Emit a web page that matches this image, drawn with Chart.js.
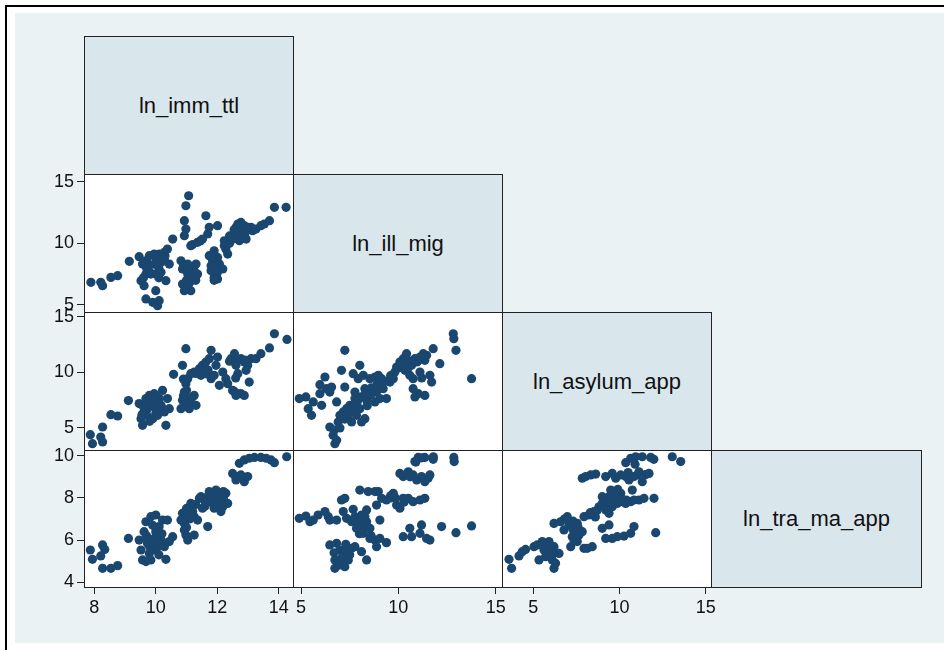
<!DOCTYPE html>
<html>
<head>
<meta charset="utf-8">
<script src="https://cdn.jsdelivr.net/npm/chart.js@4.4.1/dist/chart.umd.min.js"></script>
<style>
  body { margin: 0; width: 944px; height: 650px; overflow: hidden; background: #fff; position: relative;
         font-family: "Liberation Sans", Arial, sans-serif; }
  #frame { position: absolute; left: 5px; top: 5px; width: 960px; height: 660px;
           border-left: 2px solid #000; border-top: 2px solid #000; }
  #bg { position: absolute; left: 15px; top: 13px; width: 929px; height: 630px; background: #EAF2F3; }
  .cell { position: absolute; box-sizing: border-box; border: 1px solid #222; background: #fff; }
  .diag { background: #D9E6EB; display: flex; align-items: center; justify-content: center;
          font-size: 22px; color: #111; }
  canvas { position: absolute; }
</style>
</head>
<body>
<div id="frame"></div>
<div id="bg"></div>
<script>
// variable names on the diagonal
const varNames = ['ln_imm_ttl', 'ln_ill_mig', 'ln_asylum_app', 'ln_tra_ma_app'];

// axis ticks (x per column, y per row)
const xTicks = [[8, 10, 12, 14], [5, 10, 15], [5, 10, 15]];
const yTicks = [null, [5, 10, 15], [5, 10, 15], [4, 6, 8, 10]];
const xRange = [[7.665, 14.465], [4.589, 15.324], [3.184, 15.307]];
const yRange = [null, [4.432, 15.624], [3.023, 15.422], [3.777, 10.27]];

// ln_ill_mig vs ln_imm_ttl
const illVsImm = [[7.89,6.84],[8.21,6.84],[8.27,6.57],[8.54,7.24],[8.76,7.38],[9.14,8.54],[9.46,8.92],[9.57,8.32],
  [9.68,7.51],[9.52,6.97],[9.62,6.57],[9.73,8.05],[9.79,9.0],[9.95,9.13],[10.11,9.13],[10.28,9.27],[10.38,9.54],
  [10.28,8.73],[10.44,8.32],[9.95,8.32],[10.17,7.65],[9.84,7.51],[10.0,7.51],[10.33,6.97],[10.55,10.35],[10.0,6.16],
  [9.68,5.49],[9.9,5.22],[10.06,4.94],[10.11,5.35],[11.07,13.86],[10.98,13.05],[10.93,11.84],[10.98,11.16],[10.93,10.62],
  [11.14,9.81],[11.36,10.08],[11.52,10.35],[11.69,10.76],[11.74,11.3],[12.01,11.43],[11.63,12.24],[10.82,8.59],
  [10.87,7.92],[11.04,8.32],[11.14,8.05],[11.25,7.78],[11.36,7.51],[10.87,6.7],[10.93,6.16],[11.14,6.16],[11.2,7.11],
  [11.04,7.51],[11.31,8.32],[11.74,9.0],[11.85,8.59],[12.01,8.86],[12.07,8.32],[11.8,7.78],[11.9,7.24],[12.01,7.11],
  [12.18,7.92],[11.8,8.19],[12.23,10.21],[12.28,9.54],[12.34,9.13],[12.23,9.81],[12.5,10.35],[12.56,10.76],[12.61,11.3],
  [12.67,11.57],[12.77,11.7],[12.88,11.43],[12.83,10.89],[12.99,11.16],[13.1,11.3],[13.15,11.03],[13.26,11.16],
  [13.42,11.43],[13.53,11.57],[13.7,11.84],[12.72,10.21],[12.94,10.35],[13.86,12.92],[14.24,12.92],[10.0,8.9],
  [10.2,8.5],[9.7,8.6],[9.6,7.2],[11.0,7.0],[11.1,6.8],[11.3,7.3],[11.9,8.0],[11.9,9.4],[12.9,10.8],[12.4,10.0],
  [12.6,11.0],[12.7,10.5],[9.6,8.4],[9.7,8.0],[9.8,7.7],[10.1,8.0],[10.3,9.0],[10.1,7.2],[10.9,8.2],[11.0,7.8],
  [11.2,7.6],[11.3,7.0],[11.0,6.4],[11.8,8.9],[12.0,7.6],[11.9,7.0],[11.2,9.9],[11.45,10.2],[12.4,10.6],
  [12.55,11.1],[12.8,11.2],[12.9,11.0],[13.0,11.3]];

// ln_asylum_app vs ln_imm_ttl
const asyVsImm = [[7.87,4.4],[7.94,3.59],[8.21,4.19],[8.27,5.09],[8.27,3.74],[8.54,6.2],[8.76,6.08],[9.11,7.46],
  [9.46,7.19],[9.52,5.84],[9.57,5.24],[9.62,6.44],[9.68,7.64],[9.79,7.93],[9.84,7.34],[9.95,8.08],[10.0,6.74],
  [10.06,6.14],[10.17,7.04],[10.22,8.38],[10.28,6.44],[10.38,7.64],[10.44,6.74],[9.73,6.74],[9.9,5.84],[10.11,7.64],
  [10.33,5.24],[10.58,9.82],[10.82,6.74],[10.87,7.49],[10.93,8.23],[10.98,8.98],[11.04,9.43],[11.14,9.88],[11.25,10.03],
  [11.42,10.33],[11.52,10.63],[11.63,10.93],[11.74,11.23],[11.8,11.98],[10.98,12.13],[10.87,10.63],[11.04,7.64],
  [11.14,7.34],[11.25,7.93],[11.31,7.04],[11.09,6.74],[11.47,9.73],[11.63,9.88],[11.8,9.43],[11.9,9.73],[11.96,10.63],
  [12.01,11.38],[12.07,8.83],[12.18,10.03],[12.28,9.43],[12.34,8.98],[12.45,11.23],[12.56,11.68],[12.61,10.63],
  [12.67,9.88],[12.77,11.23],[12.88,10.93],[12.99,10.63],[13.04,9.13],[13.1,11.23],[13.26,11.23],[13.42,11.68],
  [13.7,12.19],[13.86,13.47],[14.27,12.96],[12.5,8.38],[12.61,7.93],[12.77,8.08],[12.88,7.93],[12.94,10.18],
  [9.9,7.0],[10.0,7.9],[9.7,6.2],[10.9,9.4],[11.0,8.4],[11.3,9.9],[12.6,11.2],[12.6,9.5],[9.6,6.9],[9.7,7.3],
  [9.9,7.6],[10.1,7.2],[10.2,6.8],[10.0,6.3],[9.55,6.2],[9.8,5.6],[10.9,7.9],[11.0,7.1],[11.2,7.8],[11.45,10.0],
  [11.7,10.2],[12.7,11.1],[12.65,8.1],[12.55,8.3],[12.4,11.0],[12.9,11.1]];

// ln_asylum_app vs ln_ill_mig
const asyVsIll = [[4.91,7.64],[5.25,7.79],[5.37,6.74],[5.54,6.14],[5.63,7.34],[5.97,8.08],[6.06,7.04],[5.97,8.89],
  [6.23,9.58],[6.31,8.53],[6.48,8.23],[6.57,8.68],[6.83,7.34],[7.08,10.18],[7.25,11.98],[7.25,8.68],[6.48,5.09],
  [6.65,4.34],[6.83,3.89],[6.74,3.59],[6.91,5.54],[7.0,6.14],[7.17,6.44],[7.34,6.74],[7.43,5.84],[7.51,7.04],
  [7.77,7.64],[7.77,8.23],[7.68,9.88],[8.02,10.63],[7.94,9.43],[8.2,9.73],[8.28,8.53],[8.37,7.49],[8.45,7.93],
  [8.11,5.54],[8.28,5.84],[7.6,5.54],[7.85,6.14],[8.02,6.74],[8.54,9.43],[8.8,9.58],[8.97,9.73],[9.14,9.43],
  [8.88,8.23],[8.8,7.34],[9.05,7.64],[9.39,7.64],[9.22,8.53],[9.57,9.13],[9.74,9.43],[9.82,10.03],[9.91,10.48],
  [10.08,10.93],[10.25,11.23],[10.42,11.68],[10.34,10.18],[10.59,9.73],[10.68,10.63],[10.76,9.43],[10.85,11.23],
  [10.94,10.93],[11.11,11.38],[11.28,11.68],[11.36,11.08],[11.45,11.53],[11.79,12.13],[11.62,9.73],[11.71,9.13],
  [11.11,10.03],[10.76,8.53],[11.02,8.08],[11.36,7.93],[10.85,7.79],[12.13,10.78],[12.82,13.47],[12.85,13.02],
  [12.96,11.98],[13.76,9.43],[7.3,6.2],[7.6,6.5],[8.4,7.0],[8.6,8.0],[9.6,9.7],[10.5,10.4],[11.2,9.5],
  [7.1,6.0],[7.25,5.8],[7.4,6.3],[7.7,7.0],[7.9,7.4],[8.1,7.8],[8.3,8.1],[8.6,8.6],[8.9,8.9],[9.3,9.2],[10.0,10.4],
  [10.2,10.9],[10.6,11.0],[11.0,11.0],[6.7,4.8],[7.0,5.0]];

// ln_tra_ma_app vs ln_imm_ttl
const traVsImm = [[7.87,5.53],[7.94,5.09],[8.21,5.25],[8.27,5.77],[8.34,5.56],[8.27,4.66],[8.54,4.66],[8.76,4.79],
  [9.11,6.08],[9.46,6.0],[9.52,5.53],[9.57,5.06],[9.62,6.4],[9.68,6.87],[9.73,5.85],[9.79,5.37],[9.84,7.11],
  [9.95,6.08],[10.0,7.19],[10.06,5.69],[10.11,6.64],[10.17,6.0],[10.22,6.95],[10.28,5.69],[10.38,6.95],[10.44,5.93],
  [10.55,6.16],[9.84,5.06],[10.0,5.53],[9.68,4.98],[10.33,5.09],[10.82,6.95],[10.87,7.27],[10.93,6.48],[10.98,6.24],
  [10.93,6.79],[11.04,6.0],[11.14,7.74],[11.2,7.35],[11.25,7.11],[11.25,6.24],[11.36,6.95],[11.42,7.98],[11.52,7.51],
  [11.58,7.9],[11.69,6.64],[11.74,8.3],[11.85,8.14],[11.96,8.37],[12.01,8.14],[12.07,7.74],[12.12,7.35],[12.18,7.58],
  [12.28,8.22],[12.34,7.74],[11.47,8.06],[11.25,7.66],[11.9,7.51],[12.5,9.16],[12.61,8.85],[12.67,9.01],[12.77,9.09],
  [12.88,8.77],[12.99,9.01],[12.72,9.64],[12.88,9.8],[13.04,9.88],[13.21,9.92],[13.42,9.92],[13.59,9.88],[13.75,9.8],
  [13.86,9.67],[14.26,9.95],[9.9,5.8],[10.1,5.3],[9.7,6.2],[11.0,7.5],[11.1,7.0],[11.6,7.6],[12.2,8.0],
  [9.7,6.1],[9.8,5.7],[10.0,6.4],[10.2,6.3],[9.9,6.7],[10.9,7.0],[11.0,6.6],[11.1,7.3],[11.3,7.7],[11.6,8.0],
  [11.8,7.8],[12.0,7.9],[12.2,8.3],[12.6,9.0],[12.75,8.95]];

// ln_tra_ma_app vs ln_ill_mig
const traVsIll = [[4.91,7.03],[5.25,7.14],[5.46,6.87],[5.63,6.95],[5.88,7.19],[6.23,7.35],[6.4,7.11],[6.48,6.95],
  [6.83,6.95],[7.08,7.9],[7.25,7.98],[7.17,7.35],[7.68,7.46],[8.02,8.37],[8.37,7.43],[8.45,8.3],[8.8,8.3],[8.97,8.3],
  [8.88,7.66],[9.05,6.95],[9.14,7.98],[9.39,7.9],[9.74,8.22],[9.91,7.66],[10.08,7.51],[10.25,7.98],[10.51,7.98],
  [10.76,7.82],[11.11,7.9],[11.36,7.98],[7.34,7.03],[7.6,6.87],[7.77,7.11],[7.85,6.56],[8.02,6.8],[8.2,6.32],
  [8.37,6.87],[8.54,6.56],[8.54,6.08],[8.8,6.0],[8.88,5.69],[9.05,6.08],[9.39,5.88],[8.28,7.11],[8.11,7.19],
  [6.48,5.77],[6.83,5.85],[7.0,5.53],[7.17,5.37],[6.74,5.06],[7.08,5.14],[7.34,5.53],[7.6,5.61],[7.77,5.69],
  [8.11,5.45],[8.37,5.06],[7.43,5.06],[7.25,4.74],[6.74,4.66],[7.0,4.82],[10.08,9.16],[10.25,9.01],[10.51,9.24],
  [10.76,9.09],[10.94,8.85],[11.19,9.01],[11.36,8.77],[11.53,8.93],[11.62,9.09],[10.85,9.72],[11.02,9.92],
  [11.36,9.92],[11.79,9.83],[12.85,9.92],[12.87,9.72],[10.25,6.16],[10.59,6.56],[10.68,6.16],[11.19,6.72],
  [11.11,6.32],[11.45,6.08],[11.62,6.0],[12.22,6.64],[12.96,6.35],[13.76,6.67],[6.7,5.4],[8.2,6.6],[9.6,8.0],
  [7.5,5.3],[7.3,5.8],[8.0,6.3],[8.3,6.6],[8.6,6.2],[9.6,8.1],[9.85,8.0],[10.3,7.8],[10.9,9.7],[11.2,9.9],
  [10.4,9.1],[10.6,9.0],[11.8,9.95]];

// ln_tra_ma_app vs ln_asylum_app
const traVsAsy = [[3.59,5.09],[3.74,4.66],[4.17,5.25],[4.36,5.45],[4.55,5.56],[5.04,5.69],[5.23,5.77],[5.33,5.06],
  [5.52,5.93],[5.62,5.53],[5.71,5.21],[5.91,5.93],[6.0,5.53],[6.1,5.06],[6.2,4.66],[6.29,4.9],[6.49,5.37],[6.2,5.69],
  [6.2,6.79],[6.58,6.87],[6.78,6.48],[6.97,7.11],[7.07,6.72],[7.26,6.16],[7.17,5.69],[7.36,6.0],[7.55,5.93],
  [7.65,6.24],[7.84,6.4],[7.94,5.61],[8.13,5.61],[8.42,5.69],[7.55,6.79],[7.94,7.11],[8.23,7.19],[8.52,7.35],
  [8.81,7.58],[9.0,7.74],[9.2,7.9],[9.39,8.06],[9.58,8.22],[9.78,8.3],[10.07,8.22],[9.2,7.43],[9.39,7.27],[9.58,7.58],
  [9.87,7.74],[10.16,7.82],[10.36,7.74],[10.65,7.82],[10.84,7.9],[11.13,7.9],[11.42,7.98],[9.0,6.56],[9.39,6.72],
  [9.2,6.08],[9.58,6.08],[9.87,6.16],[10.26,6.19],[10.65,6.32],[10.84,6.64],[9.0,8.06],[9.49,8.37],[10.74,8.37],
  [12.0,7.98],[12.1,6.35],[7.84,8.93],[8.04,9.01],[8.33,9.09],[8.62,9.13],[9.2,9.01],[9.58,9.16],[9.78,8.93],
  [10.07,9.09],[10.36,9.01],[10.55,8.85],[10.84,9.01],[11.03,9.09],[11.32,8.77],[11.13,9.24],[11.71,9.16],
  [10.36,9.67],[10.65,9.88],[10.94,9.95],[11.32,9.95],[11.81,9.92],[11.99,9.83],[13.06,9.95],[13.55,9.72],
  [6.8,7.0],[7.3,6.9],[8.6,7.1],[9.7,7.9],[10.1,8.0],[5.7,5.8],[5.9,5.4],[6.1,5.3],[7.3,6.5],[7.6,6.6],[8.3,7.3],
  [8.7,7.4],[9.3,7.6],[9.5,7.8],[9.7,8.1],[10.0,7.9],[9.9,8.4],[10.4,7.9],[10.5,9.2],[10.9,9.6],[11.5,9.1]];

const panels = [
  { row: 1, col: 0, pts: illVsImm },
  { row: 2, col: 0, pts: asyVsImm },
  { row: 2, col: 1, pts: asyVsIll },
  { row: 3, col: 0, pts: traVsImm },
  { row: 3, col: 1, pts: traVsIll },
  { row: 3, col: 2, pts: traVsAsy }
];

// layout of the matrix
const colX = [84, 293, 502, 711, 921];
const rowY = [36, 174, 312, 450, 587];
const AXW = 70, AXH = 50, M = 12;
const FONT = '"Liberation Sans", Arial, sans-serif';

function addCell(r, c, cls) {
  const d = document.createElement('div');
  d.className = cls;
  d.style.left = colX[c] + 'px';
  d.style.top = rowY[r] + 'px';
  d.style.width = (colX[c + 1] - colX[c] + 1) + 'px';
  d.style.height = (rowY[r + 1] - rowY[r] + 1) + 'px';
  document.body.appendChild(d);
  return d;
}

// diagonal label boxes
varNames.forEach((name, i) => {
  const d = addCell(i, i, 'cell diag');
  d.textContent = name;
});

panels.forEach(p => {
  addCell(p.row, p.col, 'cell');
  const showY = p.col === 0;
  const showX = p.row === 3;
  const w = colX[p.col + 1] - colX[p.col];
  const h = rowY[p.row + 1] - rowY[p.row];
  const cv = document.createElement('canvas');
  const cw = w + (showY ? AXW : M) + M;
  const ch = h + M + (showX ? AXH : M);
  cv.width = cw; cv.height = ch;
  cv.style.width = cw + 'px'; cv.style.height = ch + 'px';
  cv.style.left = (colX[p.col] - (showY ? AXW : M)) + 'px';
  cv.style.top = (rowY[p.row] - M) + 'px';
  document.body.appendChild(cv);

  const axisStyle = {
    grid: { drawOnChartArea: false, drawTicks: true, tickLength: 7, color: '#222', lineWidth: 1 },
    border: { display: true, color: '#222', width: 1 },
  };

  new Chart(cv.getContext('2d'), {
    type: 'scatter',
    data: {
      datasets: [{
        data: p.pts.map(q => ({ x: q[0], y: q[1] })),
        pointRadius: 4.6,
        pointHoverRadius: 4.6,
        pointBackgroundColor: '#1A476F',
        pointBorderWidth: 0
      }]
    },
    options: {
      responsive: false,
      animation: false,
      layout: { padding: { left: showY ? 0 : M, top: M, right: M, bottom: showX ? 0 : M } },
      plugins: { legend: { display: false }, tooltip: { enabled: false } },
      scales: {
        x: {
          type: 'linear',
          display: showX,
          min: xRange[p.col][0],
          max: xRange[p.col][1],
          afterBuildTicks: s => { s.ticks = xTicks[p.col].map(v => ({ value: v })); },
          afterFit: showX ? s => { s.height = AXH; s.paddingLeft = 0; s.paddingRight = 0; } : undefined,
          ...axisStyle,
          ticks: { color: '#111', font: { size: 18, family: FONT }, padding: 3, maxRotation: 0, autoSkip: false }
        },
        y: {
          type: 'linear',
          display: showY,
          min: yRange[p.row][0],
          max: yRange[p.row][1],
          afterBuildTicks: s => { s.ticks = yTicks[p.row].map(v => ({ value: v })); },
          afterFit: showY ? s => { s.width = AXW; s.paddingTop = 0; s.paddingBottom = 0; } : undefined,
          ...axisStyle,
          ticks: { color: '#111', font: { size: 18, family: FONT }, padding: 3, autoSkip: false }
        }
      }
    }
  });
});
</script>
</body>
</html>
